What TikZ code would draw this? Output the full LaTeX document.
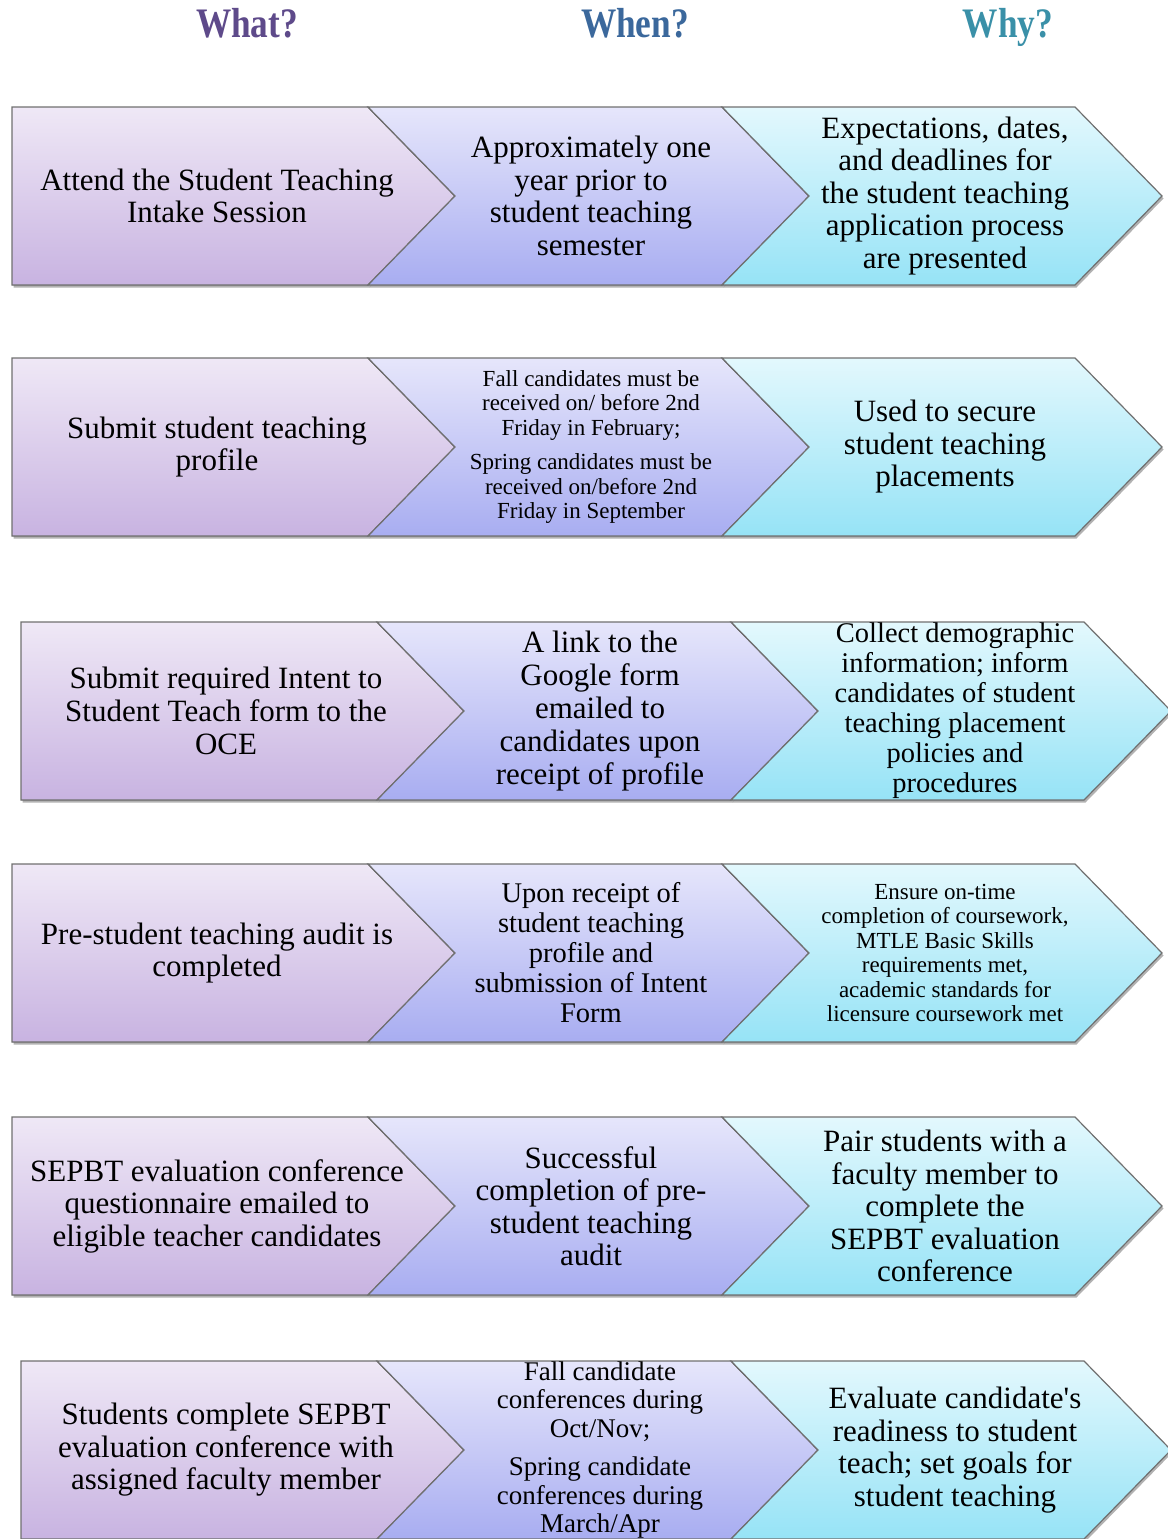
\documentclass[tikz,border=0pt]{standalone}
\usepackage{fontspec}
\setmainfont{Liberation Serif}
\usepackage{tikz}
\usetikzlibrary{shadows, calc}
\definecolor{whatTop}{HTML}{EFE8F6}
\definecolor{whatBot}{HTML}{C8B3E1}
\definecolor{whenTop}{HTML}{E6E6FB}
\definecolor{whenBot}{HTML}{A8ADF1}
\definecolor{whyTop}{HTML}{E3F8FD}
\definecolor{whyBot}{HTML}{96E3F6}
\definecolor{edgeGray}{HTML}{707070}
\definecolor{whatHead}{HTML}{5E4A8A}
\definecolor{whenHead}{HTML}{3B689C}
\definecolor{whyHead}{HTML}{3A90A8}
\tikzset{
  chev/.style={draw=edgeGray, line width=1.2pt, line join=miter,
               drop shadow={shadow xshift=1.5pt, shadow yshift=-2.5pt,
                            opacity=0.3, fill=black}},
  whatC/.style={chev, top color=whatTop, bottom color=whatBot},
  whenC/.style={chev, top color=whenTop, bottom color=whenBot},
  whyC/.style={chev, top color=whyTop, bottom color=whyBot},
  head/.style={font=\bfseries\fontsize{42}{44}\selectfont, xscale=0.84,
               anchor=base},
  cell/.style={align=center, inner sep=0pt,
               font=\fontsize{31}{32.5}\selectfont},
  cellM/.style={align=center, inner sep=0pt,
                font=\fontsize{28.5}{30}\selectfont},
  cellS/.style={align=center, inner sep=0pt,
                font=\fontsize{23}{24.5}\selectfont},
}
\begin{document}
\begin{tikzpicture}[x=1pt, y=-1pt]
    \useasboundingbox (0,0) rectangle (1167,1539);
    %% headings
    \node[head, text=whatHead] (hwhat) at (247,37) {What?};
    \node[head, text=whenHead] (hwhen) at (635,37) {When?};
    \node[head, text=whyHead] (hwhy) at (1008,37) {Why?};
    %% chevron rows: left edge / top edge
    \foreach \L/\T in {12/107, 12/358, 21/622, 12/864, 12/1117, 21/1361}{
      \fill[whatC] (\L,\T) -- ({\L+356},\T) -- ({\L+443},{\T+89})
        -- ({\L+356},{\T+178}) -- (\L,{\T+178}) -- cycle;
      \fill[whenC] ({\L+356},\T) -- ({\L+710},\T) -- ({\L+797},{\T+89})
        -- ({\L+710},{\T+178}) -- ({\L+356},{\T+178})
        -- ({\L+443},{\T+89}) -- cycle;
      \fill[whyC] ({\L+710},\T) -- ({\L+1063},\T) -- ({\L+1150},{\T+89})
        -- ({\L+1063},{\T+178}) -- ({\L+710},{\T+178})
        -- ({\L+797},{\T+89}) -- cycle;
    }
    %% row 1
    \node[cell] (what1) at (217,196) {Attend the Student Teaching\\Intake Session};
    \node[cell] (when1) at (591,196) {Approximately one\\year prior to\\student teaching\\semester};
    \node[cell] (why1) at (945,196) {Expectations, dates,\\and deadlines for\\the student teaching\\application process\\are presented};
    %% row 2
    \node[cell] (what2) at (217,447) {Submit student teaching\\profile};
    \node[cellS] (when2) at (591,447) {Fall candidates must be\\received on/ before 2nd\\Friday in February;\\[10pt]Spring candidates must be\\received on/before 2nd\\Friday in September};
    \node[cell] (why2) at (945,447) {Used to secure\\student teaching\\placements};
    %% row 3
    \node[cell, font=\fontsize{31}{33}\selectfont] (what3) at (226,711) {Submit required Intent to\\Student Teach form to the\\OCE};
    \node[cell, font=\fontsize{31}{33}\selectfont] (when3) at (600,711) {A link to the\\Google form\\emailed to\\candidates upon\\receipt of profile};
    \node[cellM] (why3) at (955,711) {Collect demographic\\information; inform\\candidates of student\\teaching placement\\policies and\\procedures};
    %% row 4
    \node[cell] (what4) at (217,953) {Pre-student teaching audit is\\completed};
    \node[cellM] (when4) at (591,953) {Upon receipt of\\student teaching\\profile and\\submission of Intent\\Form};
    \node[cellS] (why4) at (945,953) {Ensure on-time\\completion of coursework,\\MTLE Basic Skills\\requirements met,\\academic standards for\\licensure coursework met};
    %% row 5
    \node[cell] (what5) at (217,1206) {SEPBT evaluation conference\\questionnaire emailed to\\eligible teacher candidates};
    \node[cell] (when5) at (591,1206) {Successful\\completion of pre-\\student teaching\\audit};
    \node[cell] (why5) at (945,1206) {Pair students with a\\faculty member to\\complete the\\SEPBT evaluation\\conference};
    %% row 6
    \node[cell] (what6) at (226,1450) {Students complete SEPBT\\evaluation conference with\\assigned faculty member};
    \node[align=center, inner sep=0pt, font=\fontsize{27}{28.5}\selectfont] (when6) at (600,1450) {Fall candidate\\conferences during\\Oct/Nov;\\[10pt]Spring candidate\\conferences during\\March/Apr};
    \node[cell] (why6) at (955,1450) {Evaluate candidate\textquotesingle s\\readiness to student\\teach; set goals for\\student teaching};
\end{tikzpicture}
\end{document}
